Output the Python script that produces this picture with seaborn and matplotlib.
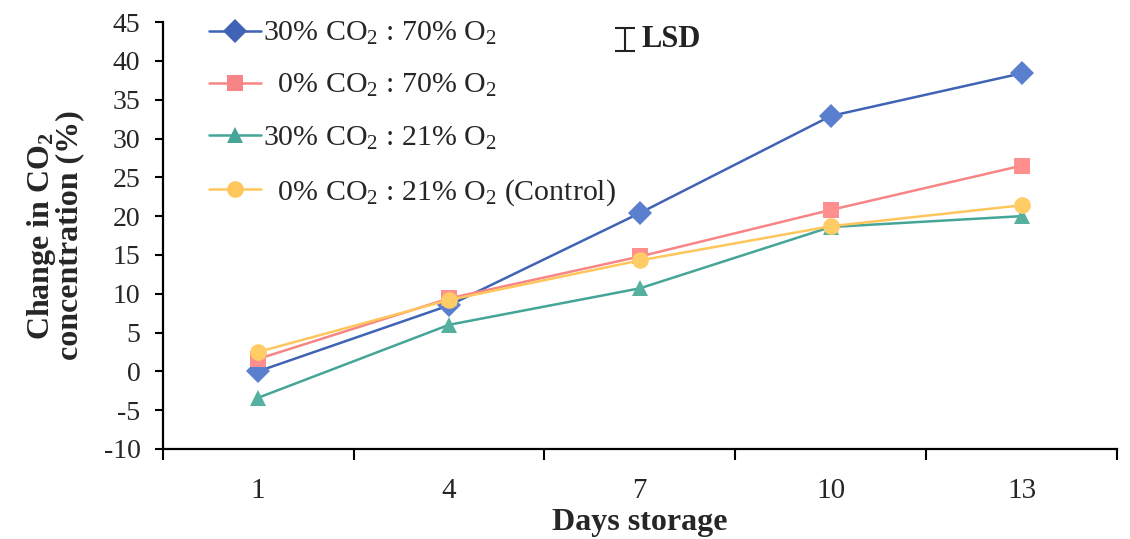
import matplotlib
matplotlib.use("Agg")
import matplotlib.pyplot as plt
import seaborn as sns
import pandas as pd
import numpy as np

days = ["1", "4", "7", "10", "13"]
series_names = [
    "30% CO$_2$ : 70% O$_2$",
    "  0% CO$_2$ : 70% O$_2$",
    "30% CO$_2$ : 21% O$_2$",
    "  0% CO$_2$ : 21% O$_2$ (Control)",
]
co2_30_o2_70 = [0.0, 8.5, 20.4, 32.9, 38.4]
co2_0_o2_70 = [1.6, 9.4, 14.8, 20.8, 26.5]
co2_30_o2_21 = [-3.4, 6.0, 10.7, 18.6, 20.0]
co2_0_o2_21 = [2.5, 9.2, 14.3, 18.7, 21.4]
lsd_value = 3.0
y_ticks = list(range(-10, 50, 5))

sns.set_theme(style="white")
plt.rcParams["font.family"] = ["Liberation Serif", "DejaVu Serif"]
plt.rcParams["mathtext.fontset"] = "custom"
plt.rcParams["mathtext.rm"] = "Liberation Serif"
plt.rcParams["mathtext.it"] = "Liberation Serif:italic"
plt.rcParams["mathtext.bf"] = "Liberation Serif:bold"

values = [co2_30_o2_70, co2_0_o2_70, co2_30_o2_21, co2_0_o2_21]
rows = []
for name, vals in zip(series_names, values):
    for d, v in zip(days, vals):
        rows.append({"day": d, "value": v, "series": name})
df = pd.DataFrame(rows)

palette = {
    series_names[0]: "#3f63b5",
    series_names[1]: "#f78585",
    series_names[2]: "#45a596",
    series_names[3]: "#ffc65c",
}
markers = {
    series_names[0]: "D",
    series_names[1]: "s",
    series_names[2]: "^",
    series_names[3]: "o",
}
mfc = {
    series_names[0]: "#5a7fcf",
    series_names[1]: "#ff8f8f",
    series_names[2]: "#55b0a0",
    series_names[3]: "#ffcc66",
}

fig = plt.figure(figsize=(11.3, 5.39), dpi=100)
ax = fig.add_axes([0.144, 0.167, 0.8445, 0.792])

sns.lineplot(data=df, x="day", y="value", hue="series", style="series",
             palette=palette, markers=markers, dashes=False, sort=False,
             linewidth=1.8, markersize=12, markeredgewidth=0, ax=ax)

for line, name in zip(ax.get_lines(), series_names):
    line.set_markerfacecolor(mfc[name])
    line.set_markeredgecolor(mfc[name])

ax.set_xlim(-0.5, 4.5)
ax.set_ylim(-10, 45)
ax.set_yticks(y_ticks)
ax.set_yticklabels([str(t) for t in y_ticks], fontsize=20)
ax.set_xticks(range(len(days)))
ax.set_xticklabels(days, fontsize=21)
ax.set_xticks(np.arange(-0.5, len(days), 1.0), minor=True)
ax.tick_params(axis="x", which="major", length=0, pad=21)
ax.tick_params(axis="x", which="minor", length=8, width=1.5, color="black", direction="out", bottom=True)
ax.tick_params(axis="y", which="major", length=6, width=1.5, color="black", direction="out", left=True, pad=10)

for s in ["top", "right"]:
    ax.spines[s].set_visible(False)
for s in ["left", "bottom"]:
    ax.spines[s].set_color("black")
    ax.spines[s].set_linewidth(1.6)

ax.set_xlabel("Days storage", fontsize=23, fontweight="bold")
ax.xaxis.set_label_coords(0.5, -0.138)
ax.set_ylabel("Change in CO$_\\mathbf{2}$\nconcentration (%)", fontsize=23,
              fontweight="bold", linespacing=0.9)
ax.yaxis.set_label_coords(-0.082, 0.5)

handles, labels = ax.get_legend_handles_labels()
leg = ax.legend(handles, labels, loc="upper left",
                bbox_to_anchor=(209 / 1130, 1 - 20 / 539), bbox_transform=fig.transFigure,
                frameon=False, fontsize=21.5, labelspacing=0.84, handlelength=1.75,
                handletextpad=0.05, borderaxespad=0, borderpad=0)

# LSD indicator
ax.errorbar([1.92], [42.8], yerr=[lsd_value / 2], fmt="none", ecolor="#222222",
            elinewidth=1.5, capsize=7, capthick=1.5)
ax.text(2.01, 42.8, "LSD", fontsize=22, fontweight="bold", va="center", ha="left",
        color="#222222")

fig.savefig("out.png", dpi=100)
